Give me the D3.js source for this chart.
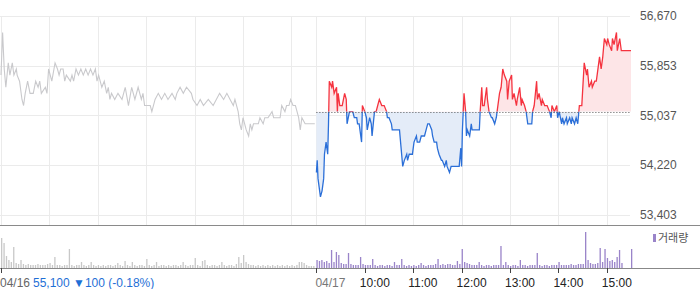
<!DOCTYPE html>
<html>
<head>
<meta charset="utf-8">
<script src="https://cdn.jsdelivr.net/npm/d3@7"></script>
<style>
  body { margin: 0; background: #fff; }
  svg { display: block; font-family: "Liberation Sans", Arial, "Noto Sans CJK KR", sans-serif; }
</style>
</head>
<body>
<svg id="chart" width="700" height="289"></svg>
<script>
// minutes after 09:00, price
const prevClose = 55100;
const priceTicks = [53403, 54220, 55037, 55853, 56670];
const day1Ticks = [[0,55700],[2,56400],[4,55800],[6,55500],[9,55900],[11,55700],[14,55900],[16,55700],[19,55800],[20,55700],[23,55600],[26,55300],[28,55200],[30,55400],[33,55600],[36,55400],[40,55400],[43,55600],[46,55500],[48,55600],[50,55400],[55,55500],[57,55400],[59,55800],[63,55600],[67,55900],[70,55800],[72,55700],[74,55800],[77,55800],[79,55600],[81,55700],[86,55600],[88,55700],[90,55600],[93,55800],[96,55700],[99,55800],[102,55700],[105,55800],[108,55700],[111,55800],[114,55700],[117,55800],[119,55600],[121,55700],[125,55500],[128,55600],[131,55400],[133,55500],[135,55300],[137,55400],[141,55300],[145,55400],[150,55300],[154,55500],[158,55200],[162,55500],[166,55300],[170,55500],[174,55300],[176,55400],[178,55200],[185,55200],[187,55100],[191,55300],[195,55400],[199,55300],[203,55400],[207,55300],[212,55400],[216,55300],[218,55400],[222,55500],[226,55400],[230,55500],[236,55400],[238,55300],[243,55200],[247,55300],[251,55200],[257,55300],[263,55200],[271,55400],[276,55300],[280,55400],[284,55300],[288,55200],[290,55300],[294,55100],[296,54900],[298,54800],[300,55000],[304,54800],[307,54700],[309,54900],[311,54800],[313,54900],[316,54900],[319,54900],[321,55000],[325,54900],[327,55000],[331,55000],[336,55100],[338,55000],[342,55000],[346,55000],[348,55200],[352,55100],[354,55200],[357,55200],[359,55300],[362,55200],[365,55200],[367,55100],[369,55000],[371,54800],[373,55000],[377,54900],[389,54900]];
const day2Ticks = [[0,54100],[1,54300],[2,54000],[5,53700],[7,53800],[9,54000],[10,54400],[12,54600],[14,54400],[15,54900],[16,55600],[19,55500],[20,55600],[22,55400],[25,55500],[26,55100],[27,55400],[29,55200],[32,55200],[35,55400],[37,55300],[38,54900],[41,55100],[45,55100],[47,55000],[50,55000],[51,54900],[53,54900],[56,54600],[57,55200],[60,55100],[62,55000],[63,54800],[66,55000],[68,54900],[69,54700],[72,55100],[74,55100],[76,55200],[78,55300],[81,55200],[84,55200],[87,55100],[88,55000],[90,55000],[93,54900],[94,54800],[99,54800],[103,54800],[105,54500],[107,54200],[109,54300],[112,54400],[113,54300],[115,54400],[119,54400],[121,54600],[124,54700],[125,54600],[128,54600],[130,54700],[131,54700],[134,54700],[136,54800],[138,54900],[140,54900],[143,54800],[144,54700],[146,54600],[149,54600],[150,54500],[152,54400],[155,54300],[156,54300],[159,54200],[161,54300],[162,54200],[165,54100],[167,54200],[169,54200],[174,54200],[177,54200],[179,54500],[180,54200],[181,54800],[182,55100],[183,55400],[185,55100],[186,54700],[187,54800],[190,54700],[192,54900],[193,54800],[196,54800],[198,54800],[202,54800],[203,55100],[205,55500],[206,55200],[208,55200],[211,55500],[212,55300],[214,55100],[217,55000],[218,55000],[221,54900],[223,55000],[224,55100],[227,55400],[229,55500],[231,55800],[233,55700],[236,55600],[237,55300],[239,55600],[242,55700],[243,55300],[245,55400],[248,55200],[249,55300],[252,55500],[254,55200],[255,55300],[258,55200],[260,55100],[262,54900],[264,54900],[267,54900],[268,55100],[270,55200],[273,55600],[274,55300],[276,55400],[279,55200],[280,55300],[283,55200],[285,55200],[286,55200],[289,55100],[291,55000],[292,55200],[295,55100],[298,55200],[299,55000],[301,55100],[304,54900],[305,55000],[307,54900],[310,55000],[311,54900],[314,55000],[316,54900],[317,55000],[320,54900],[322,55000],[324,54900],[326,55200],[328,55200],[329,55200],[332,55900],[335,55700],[336,55800],[338,55500],[341,55600],[342,55500],[345,55600],[347,55600],[348,55700],[351,56000],[353,55800],[355,56000],[357,56300],[360,56200],[361,56300],[363,56200],[366,56100],[367,56300],[369,56200],[372,56400],[373,56100],[376,56300],[378,56100],[390,56100]];

// volume in 3-minute buckets
const day1Volume = [30,25,12,8,6,21,5,4,8,4,3,4,3,3,3,4,3,3,3,4,5,3,11,3,3,2,3,3,19,3,2,3,3,6,3,2,3,6,3,2,3,2,3,2,3,3,2,3,5,3,2,7,3,2,6,3,2,3,3,2,9,3,2,3,6,2,3,3,2,3,2,3,3,2,3,6,3,2,3,3,10,3,2,7,8,3,2,3,3,2,3,6,3,2,3,3,2,4,11,5,13,6,4,3,3,2,3,2,3,2,3,2,3,2,3,2,3,2,3,2,3,2,3,6,6,5,3,2,2,2];
const day2Volume = [8,7,8,6,7,5,18,6,16,13,5,4,4,15,4,3,3,3,11,4,3,3,3,9,3,2,3,3,2,3,3,2,6,3,3,9,3,2,3,2,3,2,3,5,3,2,3,3,3,4,9,3,4,3,4,4,3,3,7,4,19,6,5,4,3,3,3,6,3,2,3,3,2,3,3,3,22,3,6,3,2,3,3,2,8,3,3,2,3,3,3,15,3,2,3,3,2,3,3,3,6,3,3,3,3,4,3,3,4,4,4,36,8,5,4,4,5,20,6,19,10,7,8,6,11,18,5,0,0,0,19];

const hourLabels = ["10:00", "11:00", "12:00", "13:00", "14:00", "15:00"];
const dayLabels = ["04/16", "04/17"];
const summaryText = "55,100 \u25BC100 (-0.18%)";
const legendText = "거래량";

const svg = d3.select("#chart");
const dayLen = 391;

const x = d3.scaleLinear().domain([0, dayLen * 2 - 1]).range([1, 631]);
const y = d3.scaleLinear().domain([priceTicks[0], priceTicks[priceTicks.length - 1]]).range([215, 16]);
const yVol = d3.scaleLinear().domain([0, 42]).range([268, 226]);

// grid
const grid = svg.append("g").attr("stroke", "#ebebeb").attr("stroke-width", 1);
grid.selectAll("line.h").data(priceTicks).enter().append("line")
  .attr("x1", 0).attr("x2", 630)
  .attr("y1", d => Math.round(y(d)) + 0.5).attr("y2", d => Math.round(y(d)) + 0.5);

const hourMins = d3.range(0, 361, 60);
const gridMins = hourMins.concat(hourMins.map(m => m + dayLen));
grid.selectAll("line.v").data(gridMins).enter().append("line")
  .attr("x1", d => Math.round(x(d)) + 0.5).attr("x2", d => Math.round(x(d)) + 0.5)
  .attr("y1", 16).attr("y2", 225);

// y labels
svg.append("g").selectAll("text").data(priceTicks).enter().append("text")
  .attr("x", 640).attr("y", d => y(d)).attr("dy", "0.35em")
  .attr("font-size", 12).attr("fill", "#555")
  .text(d => d3.format(",")(d));

// day 1 line
const line = d3.line().x(d => x(d[0])).y(d => y(d[1]));
svg.append("path").datum(day1Ticks)
  .attr("fill", "none").attr("stroke", "#c9c9cc").attr("stroke-width", 1.1)
  .attr("d", line);

// day 2 area + line split at previous close
const d2 = day2Ticks.map(d => [d[0] + dayLen, d[1]]);
const yBase = y(prevClose);
const defs = svg.append("defs");
defs.append("clipPath").attr("id", "clipUp").append("rect")
  .attr("x", 0).attr("y", 0).attr("width", 700).attr("height", yBase);
defs.append("clipPath").attr("id", "clipDown").append("rect")
  .attr("x", 0).attr("y", yBase).attr("width", 700).attr("height", 225 - yBase);

const area = d3.area().x(d => x(d[0])).y0(yBase).y1(d => y(d[1]));
[["clipUp", "#fde5e7", "#f5333f"], ["clipDown", "#e4ecf8", "#2b6fd8"]].forEach(([clip, fill, stroke]) => {
  const g = svg.append("g").attr("clip-path", `url(#${clip})`);
  g.append("path").datum(d2).attr("fill", fill).attr("d", area);
  g.append("path").datum(d2).attr("fill", "none").attr("stroke", stroke)
    .attr("stroke-width", 1.3).attr("d", line);
});

svg.append("line")
  .attr("x1", x(dayLen)).attr("x2", 630)
  .attr("y1", Math.round(yBase) + 0.5).attr("y2", Math.round(yBase) + 0.5)
  .attr("stroke", "#555").attr("stroke-width", 1).attr("stroke-dasharray", "1,2");

// separators
svg.append("line").attr("x1", 0).attr("x2", 700).attr("y1", 225.5).attr("y2", 225.5)
  .attr("stroke", "#8a8a8a");

// volume
svg.append("g").selectAll("rect").data(day1Volume).enter().append("rect")
  .attr("x", (d, i) => x(i * 3)).attr("width", 1.3)
  .attr("y", d => yVol(d)).attr("height", d => 268 - yVol(d))
  .attr("fill", "#c8c8c8");
svg.append("g").selectAll("rect").data(day2Volume).enter().append("rect")
  .attr("x", (d, i) => x(i * 3 + dayLen)).attr("width", 1.3)
  .attr("y", d => yVol(d)).attr("height", d => 268 - yVol(d))
  .attr("fill", "#9a84c9");

svg.append("line").attr("x1", 0).attr("x2", 700).attr("y1", 268.5).attr("y2", 268.5)
  .attr("stroke", "#888");

// x ticks
const tickMins = [0, dayLen].concat(hourMins.slice(1).map(m => m + dayLen));
svg.append("g").selectAll("line").data(tickMins).enter().append("line")
  .attr("x1", d => Math.round(x(d)) + 0.5).attr("x2", d => Math.round(x(d)) + 0.5)
  .attr("y1", 268).attr("y2", 273).attr("stroke", "#444");

// x labels
const lab = svg.append("g").attr("font-size", 12);
lab.append("text").attr("x", 0).attr("y", 287).attr("fill", "#666").text(dayLabels[0]);
lab.append("text").attr("x", 33).attr("y", 287).attr("fill", "#1f6fd6").text(summaryText);
lab.append("text").attr("x", x(dayLen) - 1).attr("y", 287).attr("fill", "#777").text(dayLabels[1]);
lab.selectAll("text.h").data(hourLabels).enter().append("text")
  .attr("x", (d, i) => x(dayLen + (i + 1) * 60) - 5).attr("y", 287)
  .attr("fill", "#222").text(d => d);

// legend
svg.append("rect").attr("x", 653).attr("y", 234).attr("width", 3).attr("height", 8).attr("fill", "#9a84c9");
svg.append("text").attr("x", 658).attr("y", 242).attr("font-size", 11).attr("fill", "#555")
  .style("font-family", "'Noto Sans CJK KR', sans-serif").text(legendText);
</script>
</body>
</html>
